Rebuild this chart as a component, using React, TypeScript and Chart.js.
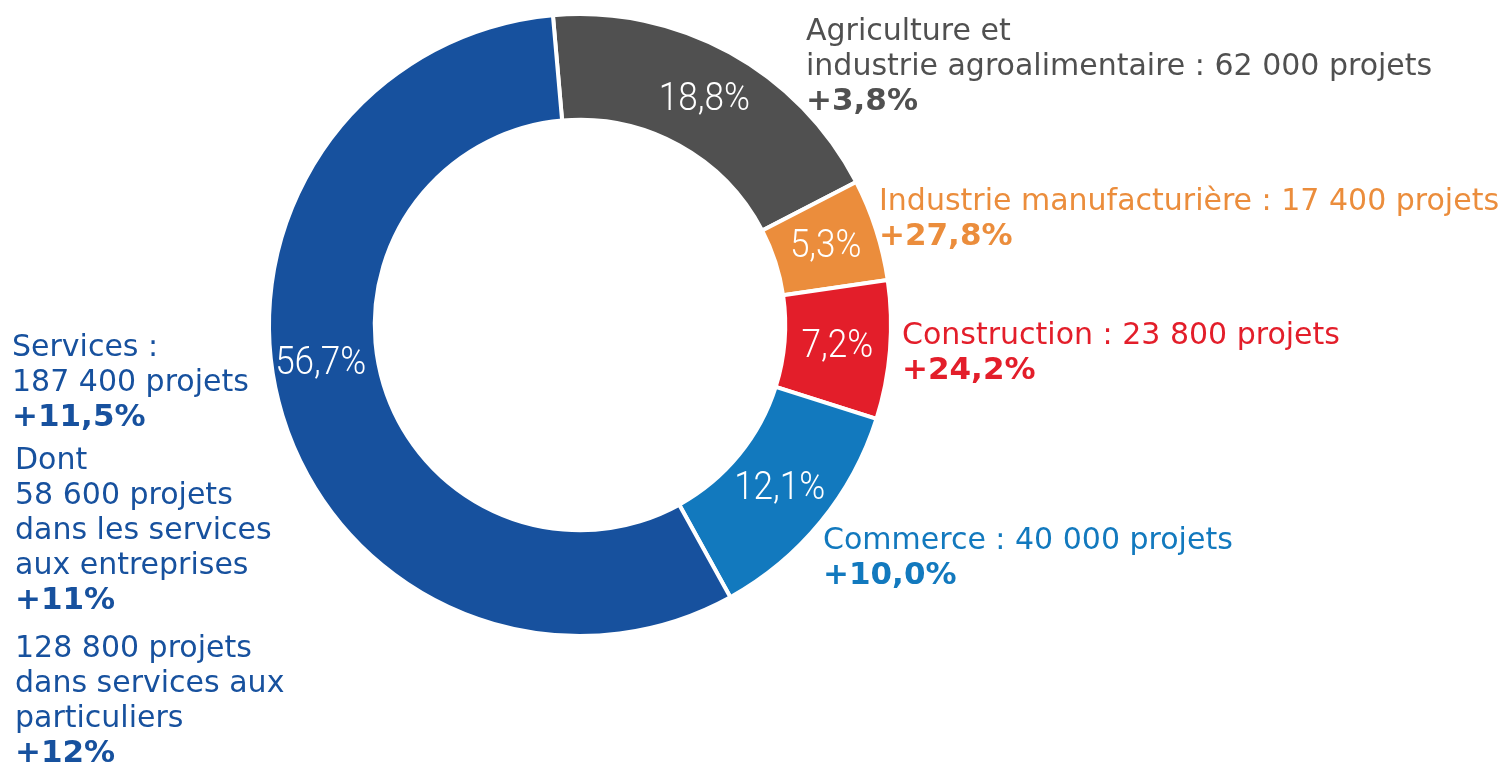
import React, { useEffect, useRef } from "react";
import { Chart, registerables } from "chart.js";

Chart.register(...registerables);

// ---- data (clockwise from top) ----
const categories = [
  "Agriculture et industrie agroalimentaire",
  "Industrie manufacturière",
  "Construction",
  "Commerce",
  "Services",
];
const shares = [18.8, 5.3, 7.2, 12.1, 56.7];
const shareLabels = ["18,8%", "5,3%", "7,2%", "12,1%", "56,7%"];
const projectCounts = ["62 000", "17 400", "23 800", "40 000", "187 400"];
const growthLabels = ["+3,8%", "+27,8%", "+24,2%", "+10,0%", "+11,5%"];
const servicesSubCounts = ["58 600", "128 800"];
const servicesSubGrowth = ["+11%", "+12%"];
const colors = ["#505050", "#EB8D3C", "#E31E2A", "#1279BE", "#17519E"];

const FONT = "'DejaVu Sans', Verdana, sans-serif";

type Line = { text: string; bold?: boolean };
type Block = { x: number; y: number; color: string; lines: Line[] };

const buildBlocks = (): Block[] => [
  {
    x: 806,
    y: 40,
    color: colors[0],
    lines: [
      { text: "Agriculture et" },
      { text: "industrie agroalimentaire : " + projectCounts[0] + " projets" },
      { text: growthLabels[0], bold: true },
    ],
  },
  {
    x: 879,
    y: 210,
    color: colors[1],
    lines: [
      { text: categories[1] + " : " + projectCounts[1] + " projets" },
      { text: growthLabels[1], bold: true },
    ],
  },
  {
    x: 902,
    y: 344,
    color: colors[2],
    lines: [
      { text: categories[2] + " : " + projectCounts[2] + " projets" },
      { text: growthLabels[2], bold: true },
    ],
  },
  {
    x: 823,
    y: 549,
    color: colors[3],
    lines: [
      { text: categories[3] + " : " + projectCounts[3] + " projets" },
      { text: growthLabels[3], bold: true },
    ],
  },
  {
    x: 12,
    y: 356,
    color: colors[4],
    lines: [
      { text: categories[4] + " :" },
      { text: projectCounts[4] + " projets" },
      { text: growthLabels[4], bold: true },
    ],
  },
  {
    x: 15,
    y: 469,
    color: colors[4],
    lines: [
      { text: "Dont" },
      { text: servicesSubCounts[0] + " projets" },
      { text: "dans les services" },
      { text: "aux entreprises" },
      { text: servicesSubGrowth[0], bold: true },
    ],
  },
  {
    x: 15,
    y: 657,
    color: colors[4],
    lines: [
      { text: servicesSubCounts[1] + " projets" },
      { text: "dans services aux" },
      { text: "particuliers" },
      { text: servicesSubGrowth[1], bold: true },
    ],
  },
];

const labelPlugin = {
  id: "donutLabels",
  afterDatasetsDraw(chart: any) {
    const ctx = chart.ctx as CanvasRenderingContext2D;
    const meta = chart.getDatasetMeta(0);
    ctx.save();
    // inner percentage labels
    ctx.fillStyle = "#ffffff";
    ctx.font = "300 39px Roboto, 'Open Sans', sans-serif";
    ctx.textAlign = "center";
    ctx.textBaseline = "middle";
    const sx = 0.9;
    meta.data.forEach((arc: any, i: number) => {
      const p = arc.getProps(["x", "y", "startAngle", "endAngle", "innerRadius", "outerRadius"], true);
      const frac = i === 4 ? 0.542 : 0.5;
      const a = p.startAngle + (p.endAngle - p.startAngle) * frac;
      const r = (p.innerRadius + p.outerRadius) / 2 + (i === 4 ? 4 : 0);
      const cx = p.x + Math.cos(a) * r;
      const cy = p.y + Math.sin(a) * r + 1;
      ctx.save();
      ctx.translate(cx, cy);
      ctx.scale(sx, 1);
      ctx.fillText(shareLabels[i], 0, 0);
      ctx.restore();
    });
    // outer text blocks
    ctx.textAlign = "left";
    ctx.textBaseline = "alphabetic";
    const lh = 35;
    buildBlocks().forEach((b) => {
      ctx.fillStyle = b.color;
      b.lines.forEach((ln, k) => {
        ctx.font = ln.bold ? "bold 31px " + FONT : "30px " + FONT;
        ctx.fillText(ln.text, b.x, b.y + k * lh);
      });
    });
    ctx.restore();
  },
};

export default function App() {
  const ref = useRef<HTMLCanvasElement | null>(null);
  useEffect(() => {
    if (!ref.current) return;
    const chart = new Chart(ref.current, {
      type: "doughnut",
      data: {
        labels: categories,
        datasets: [
          {
            data: shares,
            backgroundColor: colors,
            borderColor: "#ffffff",
            borderWidth: 4,
            hoverOffset: 0,
            offset: 0,
          },
        ],
      },
      options: {
        responsive: false,
        animation: false,
        rotation: -5,
        cutout: "66%",
        radius: 311,
        layout: { padding: { left: 264, right: 608, top: 9, bottom: 125 } },
        plugins: {
          legend: { display: false },
          tooltip: { enabled: false },
        },
        events: [],
      },
      plugins: [labelPlugin],
    });
    return () => chart.destroy();
  }, []);
  return (
    <div style={{ position: "absolute", left: 0, top: 0, width: 1504, height: 766, background: "#fff" }}>
      <canvas ref={ref} width={1504} height={766} style={{ display: "block" }} />
    </div>
  );
}
